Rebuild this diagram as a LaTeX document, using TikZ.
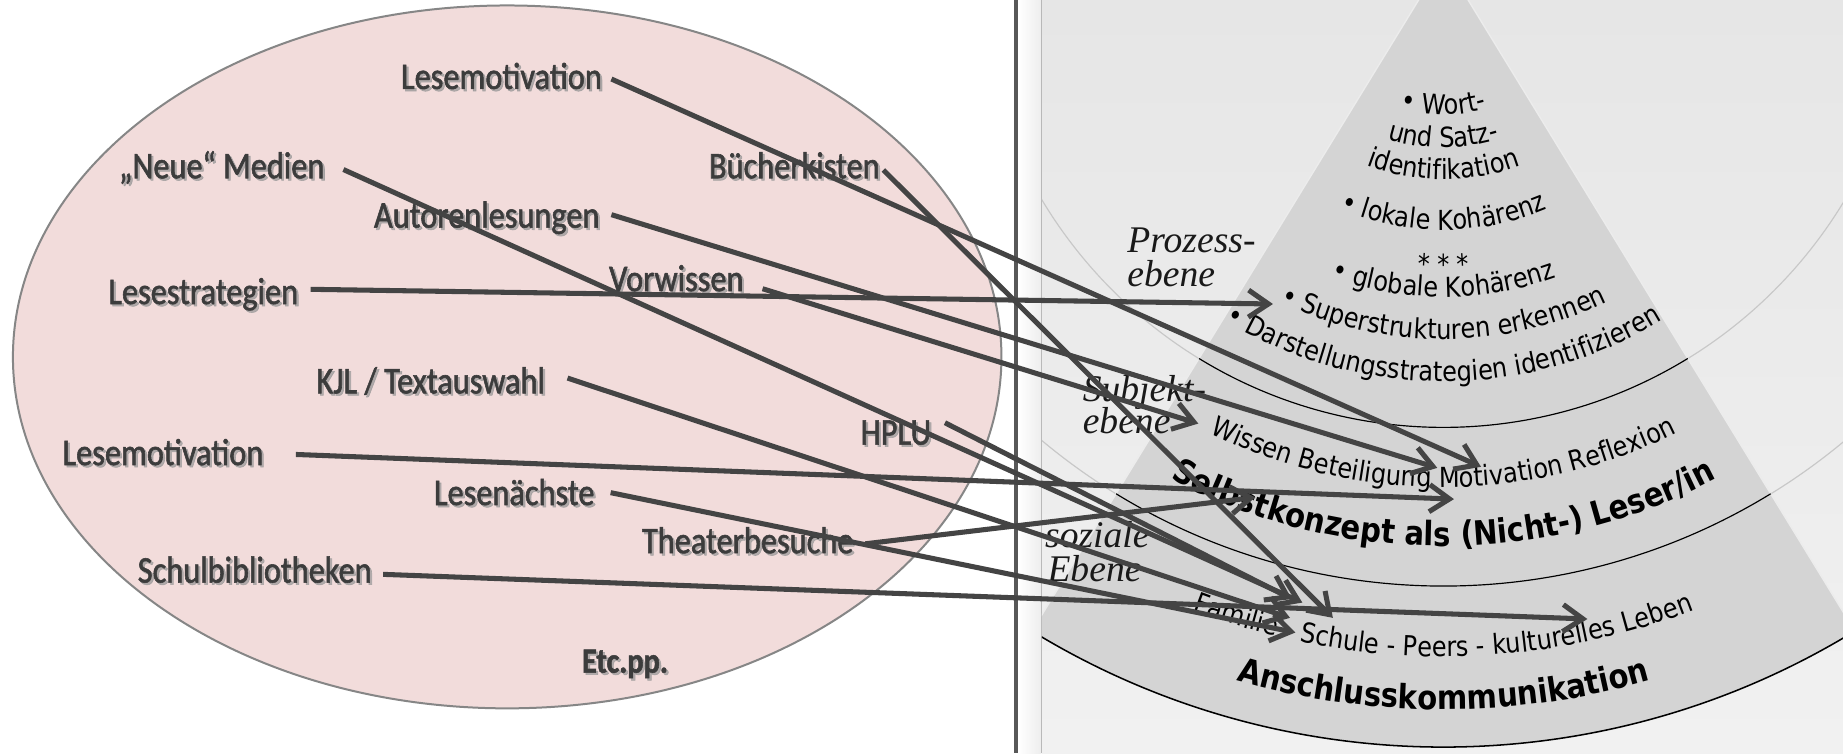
\documentclass[tikz,border=0pt]{standalone}
\usepackage{fontspec}
\usetikzlibrary{arrows.meta,decorations.text,calc}

\newfontfamily\lblfont{Carlito}[FakeStretch=0.86, FakeBold=1.5]
\newfontfamily\panelfont{DejaVu Sans}[FakeStretch=0.87]
\newfontfamily\levelfont{Liberation Serif}

\definecolor{ellfill}{HTML}{F2DCDB}
\definecolor{ellline}{HTML}{868686}
\definecolor{ink}{HTML}{3C3C3C}
\definecolor{inkshadow}{HTML}{969696}
\definecolor{wire}{HTML}{444444}
\definecolor{paneltop}{HTML}{E6E6E6}
\definecolor{panelbot}{HTML}{F1F1F1}
\definecolor{sectorfill}{HTML}{D4D4D4}
\definecolor{faintring}{HTML}{C8C8C8}
\definecolor{divider}{HTML}{585858}

\newcommand\rfont{\panelfont\fontsize{23.5}{26}\selectfont}
\newcommand\bfont{\panelfont\bfseries\fontsize{28.5}{32}\selectfont}

\tikzset{
  lbl/.style={anchor=base west, inner sep=0pt, text=ink,
    font=\lblfont\fontsize{32}{36}\selectfont},
  lblshadow/.style={lbl, text=inkshadow, opacity=0.7},
  level/.style={anchor=base west, inner sep=0pt, text=black!90,
    font=\levelfont\itshape\fontsize{32}{36}\selectfont},
  conn/.style={draw=wire, line width=4.3pt,
    -{Straight Barb[length=17pt, width=23pt]}},
  ring/.style={draw=black, line width=1pt},
}

% label with a soft drop shadow
\newcommand\shadowed[4][]{%
  \node[lblshadow,#1] (#2-sh) at ($(#3)+(1.8,-1.8)$) {#4};
  \node[lbl,#1] (#2) at (#3) {#4};}

% text bent along a circle around the apex of the fan
\newcommand\bandtext[3]{%
  \path[decorate, decoration={text along path, text align=center,
      text={|#2|#3}}]
    ($(apex)+(230:#1)$) arc[start angle=230, end angle=310, radius=#1];}

\begin{document}
\begin{tikzpicture}[x=1pt,y=1pt]
\useasboundingbox (0,0) rectangle (1568,640.65);
\fill[white] (0,0) rectangle (1568,640.65);
\coordinate (apex) at (1228,675);

% ---- left: field of measures -------------------------------------------
\draw[fill=ellfill, draw=ellline, line width=1.7pt]
  (431.5,337) ellipse[x radius=420.5, y radius=299];

% ---- divider ------------------------------------------------------------
\shade[left color=white, right color=black!7] (866.5,0) rectangle (886,640.65);
\fill[divider] (863,0) rectangle (866.5,640.65);
\draw[black!30, line width=1pt] (886,0) -- (886,640.65);

% ---- right: reading competence fan --------------------------------------
\begin{scope}
  \clip (886.5,0) rectangle (1568,640.65);
  \shade[top color=paneltop, bottom color=panelbot] (886,0) rectangle (1568,640.65);
  \draw[faintring, line width=1pt] (apex) circle[radius=398];
  \draw[faintring, line width=1pt] (apex) circle[radius=533];
  \fill[sectorfill] (apex) -- ($(apex)+(238.5:670)$)
    arc[start angle=238.5, end angle=301.5, radius=670] -- cycle;
  \draw[white!55!sectorfill, line width=1.2pt] (apex) -- ($(apex)+(238.5:670)$);
  \draw[white!55!sectorfill, line width=1.2pt] (apex) -- ($(apex)+(301.5:670)$);
  \draw[ring] ($(apex)+(238.5:398)$) arc[start angle=238.5, end angle=301.5, radius=398];
  \draw[ring] ($(apex)+(238.5:533)$) arc[start angle=238.5, end angle=301.5, radius=533];
  \draw[ring, line width=1.3pt] ($(apex)+(238.5:670)$) arc[start angle=238.5, end angle=301.5, radius=670];

  \bandtext{132}{\rfont}{• Wort-}
  \bandtext{160}{\rfont}{und Satz-}
  \bandtext{187}{\rfont}{identifikation}
  \bandtext{230}{\rfont}{• lokale Kohärenz}
  \bandtext{268}{\rfont}{* * *}
  \bandtext{287}{\rfont}{• globale Kohärenz}
  \bandtext{323}{\rfont}{• Superstrukturen erkennen}
  \bandtext{359}{\rfont}{• Darstellungsstrategien identifizieren}
  \bandtext{449}{\rfont}{Wissen Beteiligung Motivation Reflexion}
  \bandtext{499}{\bfont}{Selbstkonzept als (Nicht-) Leser/in}
  \bandtext{593}{\rfont}{Familie - Schule - Peers - kulturelles Leben}
  \bandtext{638}{\bfont}{Anschlusskommunikation}
\end{scope}

% level names
\node[level] (proz1) at (959,426) {Prozess-};
\node[level] (proz2) at (959,397) {ebene};
\node[level] (subj1) at (921,299) {Subjekt-};
\node[level] (subj2) at (921,272) {ebene};
\node[level] (soz1)  at (889,175) {soziale};
\node[level] (soz2)  at (891,146) {Ebene};

% ---- measures -------------------------------------------------------------
\shadowed{lm1}{341,565}{Lesemotivation}
\shadowed{nm}{101,489}{„Neue“ Medien}
\shadowed{bk}{603,489}{Bücherkisten}
\shadowed{al}{318,447}{Autorenlesungen}
\shadowed{vw}{518,393}{Vorwissen}
\shadowed{ls}{92,382}{Lesestrategien}
\shadowed{kjl}{269,306}{KJL / Textauswahl}
\shadowed{hplu}{732,262.4}{HPLU}
\shadowed{lm2}{53,245}{Lesemotivation}
\shadowed{ln}{369,211}{Lesenächste}
\shadowed{tb}{546,170}{Theaterbesuche}
\shadowed{sb}{117,145}{Schulbibliotheken}
\shadowed[font=\lblfont\bfseries\fontsize{30}{34}\selectfont]{etc}{495,68.4}{Etc.pp.}

% ---- arrow targets in the fan -----------------------------------------------
\coordinate (tSuper)   at (1083,382);
\coordinate (tWissen)  at (1019.5,280.3);
\coordinate (tBeteil)  at (1222.8,242.6);
\coordinate (tMotiv)   at (1260,243.5);
\coordinate (tSelbstA) at (1237,216);
\coordinate (tSelbstB) at (1068,217.5);
\coordinate (tSozA)    at (1108,128);
\coordinate (tSozB)    at (1099,131);
\coordinate (tSozC)    at (1097.5,115);
\coordinate (tSozD)    at (1102,102.5);
\coordinate (tSozE)    at (1134,115);
\coordinate (tLeben)   at (1350.5,114);

% ---- connectors -----------------------------------------------------------
\draw[conn] ([shift={(8,8.4)}]lm1.base east)    -- (tMotiv);
\draw[conn] ([shift={(16,7.4)}]nm.base east)    -- (tSozA);
\draw[conn] ([shift={(3,7)}]bk.base east)       -- (tSozE);
\draw[conn] ([shift={(10,11)}]al.base east)     -- (tBeteil);
\draw[conn] ([shift={(16,2)}]vw.base east)      -- (tWissen);
\draw[conn] ([shift={(10.5,12.5)}]ls.base east) -- (tSuper);
\draw[conn] ([shift={(19,13)}]kjl.base east)    -- (tSozC);
\draw[conn] ([shift={(11.5,18.6)}]hplu.base east) -- (tSozB);
\draw[conn] ([shift={(27.5,9)}]lm2.base east)   -- (tSelbstA);
\draw[conn] ([shift={(13.6,10.5)}]ln.base east) -- (tSozD);
\draw[conn] ([shift={(10,8)}]tb.base east)      -- (tSelbstB);
\draw[conn] ([shift={(9.5,7)}]sb.base east)     -- (tLeben);
\end{tikzpicture}
\end{document}
